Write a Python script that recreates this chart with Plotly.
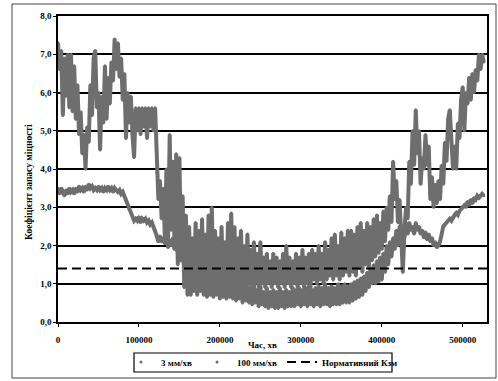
import numpy as np
import plotly.graph_objects as go

# Safety factor over time, sampled every 2000 min
STEP_MIN = 2000

k_3mm = [
    3.5, 3.35, 3.5, 3.4, 3.3, 3.45, 3.35, 3.5, 3.4, 3.45,
    3.35, 3.5, 3.4, 3.55, 3.45, 3.5, 3.4, 3.55, 3.45, 3.6,
    3.5, 3.55, 3.45, 3.5, 3.45, 3.55, 3.45, 3.5, 3.4, 3.5,
    3.45, 3.55, 3.45, 3.5, 3.4, 3.5, 3.45, 3.4, 3.45, 3.35,
    3.4, 3.3, 3.2, 3.05, 2.95, 2.85, 2.75, 2.65, 2.7, 2.65,
    2.75, 2.6, 2.7, 2.65, 2.7, 2.6, 2.65, 2.55, 2.6, 2.5,
    2.4, 2.25, 2.1, 2.25, 2.1, 2.2, 2.05, 2.2, 1.95, 2.15,
    2.0, 2.2, 1.9, 2.1, 1.8, 2.05, 1.6, 1.9, 1.4, 1.8,
    1.2, 1.9, 0.7, 1.7, 0.8, 2.0, 0.7, 1.6, 0.8, 1.8,
    0.7, 1.5, 0.65, 1.7, 0.7, 1.4, 0.65, 1.6, 0.7, 1.3,
    0.6, 1.5, 0.65, 1.3, 0.6, 1.4, 0.65, 1.2, 0.6, 1.3,
    0.55, 1.1, 0.6, 1.2, 0.5, 1.0, 0.55, 1.1, 0.5, 0.9,
    0.45, 1.0, 0.5, 0.85, 0.4, 0.95, 0.45, 0.8, 0.4, 0.9,
    0.35, 0.8, 0.4, 0.85, 0.35, 0.8, 0.35, 0.9, 0.4, 0.8,
    0.35, 0.85, 0.4, 0.8, 0.4, 0.9, 0.4, 0.85, 0.45, 0.9,
    0.4, 0.85, 0.45, 0.9, 0.4, 0.95, 0.45, 0.85, 0.4, 0.9,
    0.45, 0.95, 0.4, 0.9, 0.45, 1.0, 0.45, 0.9, 0.4, 0.95,
    0.45, 0.9, 0.45, 1.0, 0.45, 0.95, 0.5, 1.0, 0.5, 0.95,
    0.5, 1.0, 0.55, 1.05, 0.6, 1.1, 0.65, 1.15, 0.7, 1.2,
    0.8, 1.3, 0.9, 1.4, 1.0, 1.5, 1.0, 1.6, 1.05, 1.7,
    1.1, 1.8, 1.3, 2.0, 1.5, 2.1, 1.7, 2.2, 1.9, 2.4,
    2.0, 2.5, 2.1, 2.5, 2.2, 2.6, 2.3, 2.6, 2.4, 2.5,
    2.3, 2.6, 2.4, 2.5, 2.3, 2.4, 2.2, 2.35, 2.15, 2.3,
    2.1, 2.2, 2.0, 2.1, 1.95, 2.0, 2.1, 2.3, 2.5, 2.55,
    2.6, 2.65, 2.7, 2.65, 2.75, 2.8, 2.85, 2.8, 2.9, 2.95,
    3.0, 3.05, 3.0, 3.15, 3.05, 3.2, 3.1, 3.25, 3.2, 3.3,
    3.25, 3.3, 3.35, 3.3,
]

k_100mm = [
    7.3, 6.6, 7.1, 5.4, 6.9, 5.9, 7.0, 5.6, 7.0, 5.5,
    6.7, 5.3, 6.2, 4.9, 5.5, 4.4, 4.9, 4.0, 5.1, 4.7,
    6.2, 5.4, 6.9, 7.1, 5.6, 6.0, 4.5, 5.9, 5.2, 6.7,
    5.3, 6.4, 5.7, 6.8, 6.3, 7.4, 6.6, 7.3, 6.4, 6.9,
    5.8, 6.5, 4.8, 6.0, 5.2, 5.9, 4.9, 4.3, 5.6, 5.0,
    5.6, 4.9, 5.6, 5.1, 5.6, 4.8, 5.6, 5.1, 5.6, 5.0,
    5.6, 3.9, 3.2, 3.7, 2.7, 3.5, 2.2, 4.0, 2.2, 4.9,
    2.4, 4.2, 1.9, 4.4, 1.5, 4.3, 1.6, 3.3, 0.9, 2.8,
    0.7, 2.5, 0.8, 2.2, 0.9, 2.6, 0.8, 2.4, 1.0, 2.7,
    0.9, 2.3, 0.8, 2.8, 1.0, 3.0, 0.9, 2.4, 1.0, 2.2,
    0.8, 2.5, 1.0, 2.1, 0.9, 2.6, 1.0, 2.85, 0.9, 2.5,
    1.0, 2.2, 0.9, 2.4, 1.0, 2.0, 0.9, 2.3, 1.0, 1.9,
    0.9, 2.1, 1.0, 1.8, 0.9, 2.1, 1.0, 1.7, 0.9, 1.8,
    1.0, 1.6, 0.9, 1.8, 1.0, 1.7, 0.9, 1.6, 1.0, 1.8,
    0.9, 2.0, 1.0, 1.7, 0.9, 1.6, 1.0, 1.8, 0.9, 1.7,
    1.0, 1.9, 0.9, 1.7, 1.0, 1.8, 0.9, 1.9, 1.1, 1.8,
    1.0, 2.0, 1.1, 1.8, 1.0, 2.1, 1.1, 1.9, 1.2, 2.2,
    1.1, 2.3, 1.2, 2.0, 1.1, 2.35, 1.2, 2.2, 1.3, 2.4,
    1.2, 2.4, 1.3, 2.3, 1.2, 2.5, 1.4, 2.6, 1.3, 2.4,
    1.5, 2.6, 1.4, 2.5, 1.6, 2.7, 1.7, 2.8, 1.8, 2.6,
    1.9, 2.9, 2.1, 3.0, 2.4, 3.3, 2.6, 4.2, 3.2, 3.7,
    2.6, 3.2, 2.0, 1.3, 2.4, 3.0, 2.7, 4.2, 3.6, 5.0,
    4.1, 5.55, 4.4, 5.0, 3.6, 4.3, 4.0, 4.9, 4.1, 4.6,
    3.2, 3.8, 3.0, 3.6, 3.1, 3.7, 3.2, 4.1, 3.6, 4.7,
    4.2, 5.3, 5.55, 4.6, 4.0, 4.6, 4.0, 5.2, 4.8, 5.8,
    6.15, 5.0, 6.0, 5.7, 6.4, 5.8, 6.5, 6.0, 6.6, 6.3,
    7.0, 6.6, 7.0, 6.8,
]

K_NORM = 1.4
X_MAX = 530000

series_names = ["3 мм/хв", "100 мм/хв"]
norm_name = "Нормативний Кзм"
x_title = "Час, хв"
y_title = "Коефіцієнт запасу міцності"

x_ticks = [0, 100000, 200000, 300000, 400000, 500000]
y_ticks = [0, 1, 2, 3, 4, 5, 6, 7, 8]

GRAY = "#6e6e6e"
FONT = "Liberation Serif"

fig = go.Figure()

for name, vals in zip(series_names, [k_3mm, k_100mm]):
    t = np.arange(len(vals)) * STEP_MIN
    # dense trace drawn as a solid band
    fig.add_trace(go.Scatter(
        x=t, y=vals, mode="lines", showlegend=False, hoverinfo="skip",
        line=dict(color=GRAY, width=4),
    ))
    fig.add_trace(go.Scatter(
        x=t, y=vals, mode="markers", name=name,
        marker=dict(color=GRAY, size=3),
    ))

fig.add_trace(go.Scatter(
    x=[0, X_MAX], y=[K_NORM, K_NORM], mode="lines", name=norm_name,
    line=dict(color="black", width=2, dash="9px,5px"),
))

# page layout in pixels
W, H = 498, 381
L, R, T, B = 58, 11, 16, 59
pw, ph = W - L - R, H - T - B


def px_x(px):
    return (px - L) / pw


def px_y(py):
    return (H - B - py) / ph


fig.update_layout(
    width=W, height=H,
    margin=dict(l=L, r=R, t=T, b=B, autoexpand=False),
    paper_bgcolor="white", plot_bgcolor="white",
    separators=", ",
    font=dict(family=FONT, size=9, color="black", weight="bold"),
    showlegend=True,
    legend=dict(
        orientation="h",
        xref="container", yref="container",
        x=262 / W, xanchor="center", y=1 - 347.5 / H, yanchor="top",
        borderwidth=0, bgcolor="rgba(0,0,0,0)",
        font=dict(family=FONT, size=9, color="black", weight="bold"),
        itemwidth=30, tracegroupgap=0,
    ),
    xaxis=dict(
        range=[0, X_MAX], tickvals=x_ticks, tickformat="d",
        showgrid=False, zeroline=False,
        showline=True, linecolor="black", linewidth=1.5, mirror=True,
        ticks="outside", ticklen=3, tickcolor="black",
        ticklabelstandoff=5,
        tickfont=dict(family=FONT, size=9, weight="bold"),
    ),
    yaxis=dict(
        range=[0, 8], tickvals=y_ticks, tickformat=".1f",
        showgrid=True, gridcolor="black", gridwidth=1.5, zeroline=False,
        showline=True, linecolor="black", linewidth=1.5, mirror=True,
        ticks="outside", ticklen=3, tickcolor="black",
        tickfont=dict(family=FONT, size=9, weight="bold"),
    ),
    annotations=[
        dict(text=x_title, xref="paper", yref="paper", x=px_x(262), y=px_y(345),
             yanchor="middle", showarrow=False,
             font=dict(family=FONT, size=9, weight="bold")),
        dict(text=y_title, xref="paper", yref="paper", x=px_x(22), y=px_y(182),
             textangle=-90, showarrow=False,
             font=dict(family=FONT, size=9.5, weight="bold")),
    ],
    shapes=[
        # outer chart frame
        dict(type="rect", xref="paper", yref="paper",
             x0=px_x(12), x1=px_x(496), y0=px_y(378), y1=px_y(4),
             line=dict(color="#444444", width=1), layer="below"),
        # legend box
        dict(type="rect", xref="paper", yref="paper",
             x0=px_x(134), x1=px_x(392), y0=px_y(372), y1=px_y(353),
             line=dict(color="black", width=1.2), layer="below"),
    ],
)

fig.write_html("out.html")
